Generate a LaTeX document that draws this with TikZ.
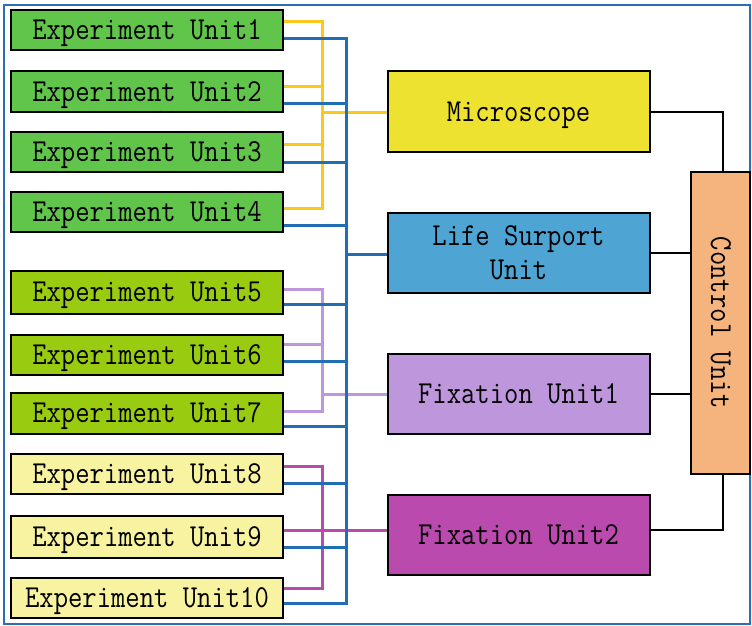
\documentclass[tikz,border=0pt]{standalone}
\usepackage{graphicx}

% colours of boxes and wires
\definecolor{grnA}{HTML}{62C54B}
\definecolor{grnB}{HTML}{99CC11}
\definecolor{ylwC}{HTML}{F8F3A0}
\definecolor{micF}{HTML}{EEE230}
\definecolor{lifeF}{HTML}{4EA5D4}
\definecolor{fixAF}{HTML}{BE96DC}
\definecolor{fixBF}{HTML}{BB4AAE}
\definecolor{ctrlF}{HTML}{F5B47E}
\definecolor{wireY}{HTML}{FAC81E}
\definecolor{wireB}{HTML}{226EB4}
\definecolor{frameB}{HTML}{2A6EB4}

% narrow monospaced label text
\newcommand{\utxt}[1]{\scalebox{0.87}[1]{#1}}

\tikzset{
  lbl/.style={font=\ttfamily\fontsize{32}{33.5}\selectfont},
  capline/.style={text height=19pt, text depth=0pt},
  unitbox/.style={lbl, capline, draw=black, line width=2pt, minimum width=272pt,
    minimum height=40pt, inner sep=0pt},
  subbox/.style={lbl, draw=black, line width=2pt, minimum width=262pt, minimum height=80pt,
    inner sep=0pt, align=center},
  ylw/.style={wireY, line width=3pt},
  blu/.style={wireB, line width=3pt},
  lav/.style={fixAF, line width=3pt},
  mag/.style={fixBF, line width=3pt},
  blk/.style={black, line width=2pt},
}

\begin{document}
\begin{tikzpicture}[x=1pt, y=-1pt]
\useasboundingbox (0,0) rectangle (752,626);
\draw[frameB, line width=2pt] (4,5) rectangle (750,624);

% experiment units
\node[unitbox, fill=grnA] (u1) at (147,30)   {\utxt{Experiment Unit1}};
\node[unitbox, fill=grnA] (u2) at (147,91.5) {\utxt{Experiment Unit2}};
\node[unitbox, fill=grnA] (u3) at (147,151.5){\utxt{Experiment Unit3}};
\node[unitbox, fill=grnA] (u4) at (147,211.5){\utxt{Experiment Unit4}};
\node[unitbox, fill=grnB, minimum height=43pt] (u5) at (147,292) {\utxt{Experiment Unit5}};
\node[unitbox, fill=grnB] (u6) at (147,354.5){\utxt{Experiment Unit6}};
\node[unitbox, fill=grnB, minimum height=41pt] (u7) at (147,413) {\utxt{Experiment Unit7}};
\node[unitbox, fill=ylwC] (u8) at (147,473.5){\utxt{Experiment Unit8}};
\node[unitbox, fill=ylwC, minimum height=42pt] (u9) at (147,536.5){\utxt{Experiment Unit9}};
\node[unitbox, fill=ylwC] (u10) at (147,597.5){\utxt{Experiment Unit10}};

% subsystem boxes
\node[subbox, capline, fill=micF]  (mic)  at (518.5,111.5) {\utxt{Microscope}};
\node[subbox, fill=lifeF] (life) at (518.5,252.5) {\utxt{Life Surport}\\\utxt{Unit}};
\node[subbox, capline, fill=fixAF] (fix1) at (518.5,393.5) {\utxt{Fixation Unit1}};
\node[subbox, capline, fill=fixBF] (fix2) at (518.5,534.5) {\utxt{Fixation Unit2}};

% control unit
\node[draw=black, line width=2pt, fill=ctrlF, minimum width=59pt, minimum height=302pt,
  inner sep=0pt] (ctrl) at (720.5,323) {};
\node[lbl, capline, rotate=-90, inner sep=0pt] (ctrltxt) at (ctrl.center) {\utxt{Control Unit}};

% microscope bus (units 1-4)
\draw[ylw] (u1.east |- 0,22) -- (322,22) -- (322,208) -- (u4.east |- 0,208);
\draw[ylw] (u2.east |- 0,86) -- (322,86);
\draw[ylw] (u3.east |- 0,144) -- (322,144);
\draw[ylw] (322,112) -- (mic.west |- 0,112);

% fixation unit 1 bus (units 5-7)
\draw[lav] (u5.east |- 0,289) -- (322,289) -- (322,411) -- (u7.east |- 0,411);
\draw[lav] (u6.east |- 0,344) -- (322,344);
\draw[lav] (322,394) -- (fix1.west |- 0,394);

% fixation unit 2 bus (units 8-10)
\draw[mag] (u8.east |- 0,466) -- (322,466) -- (322,588) -- (u10.east |- 0,588);
\draw[mag] (u9.east |- 0,530) -- (fix2.west |- 0,530);

% life support bus (all units)
\draw[blu] (u1.east |- 0,39) -- (346,39) -- (346,603) -- (u10.east |- 0,603);
\draw[blu] (u2.east |- 0,103) -- (346,103);
\draw[blu] (u3.east |- 0,162) -- (346,162);
\draw[blu] (u4.east |- 0,225) -- (346,225);
\draw[blu] (u5.east |- 0,304) -- (346,304);
\draw[blu] (u6.east |- 0,361) -- (346,361);
\draw[blu] (u7.east |- 0,426) -- (346,426);
\draw[blu] (u8.east |- 0,483) -- (346,483);
\draw[blu] (u9.east |- 0,547) -- (346,547);
\draw[blu] (346,254) -- (life.west |- 0,254);

% control links
\draw[blk] (mic.east) -| ([xshift=2pt]ctrl.north);
\draw[blk] (life.east) -- (ctrl.west |- life.east);
\draw[blk] (fix1.east) -- (ctrl.west |- fix1.east);
\draw[blk] (fix2.east |- 0,530) -| ([xshift=2pt]ctrl.south);
\end{tikzpicture}
\end{document}
